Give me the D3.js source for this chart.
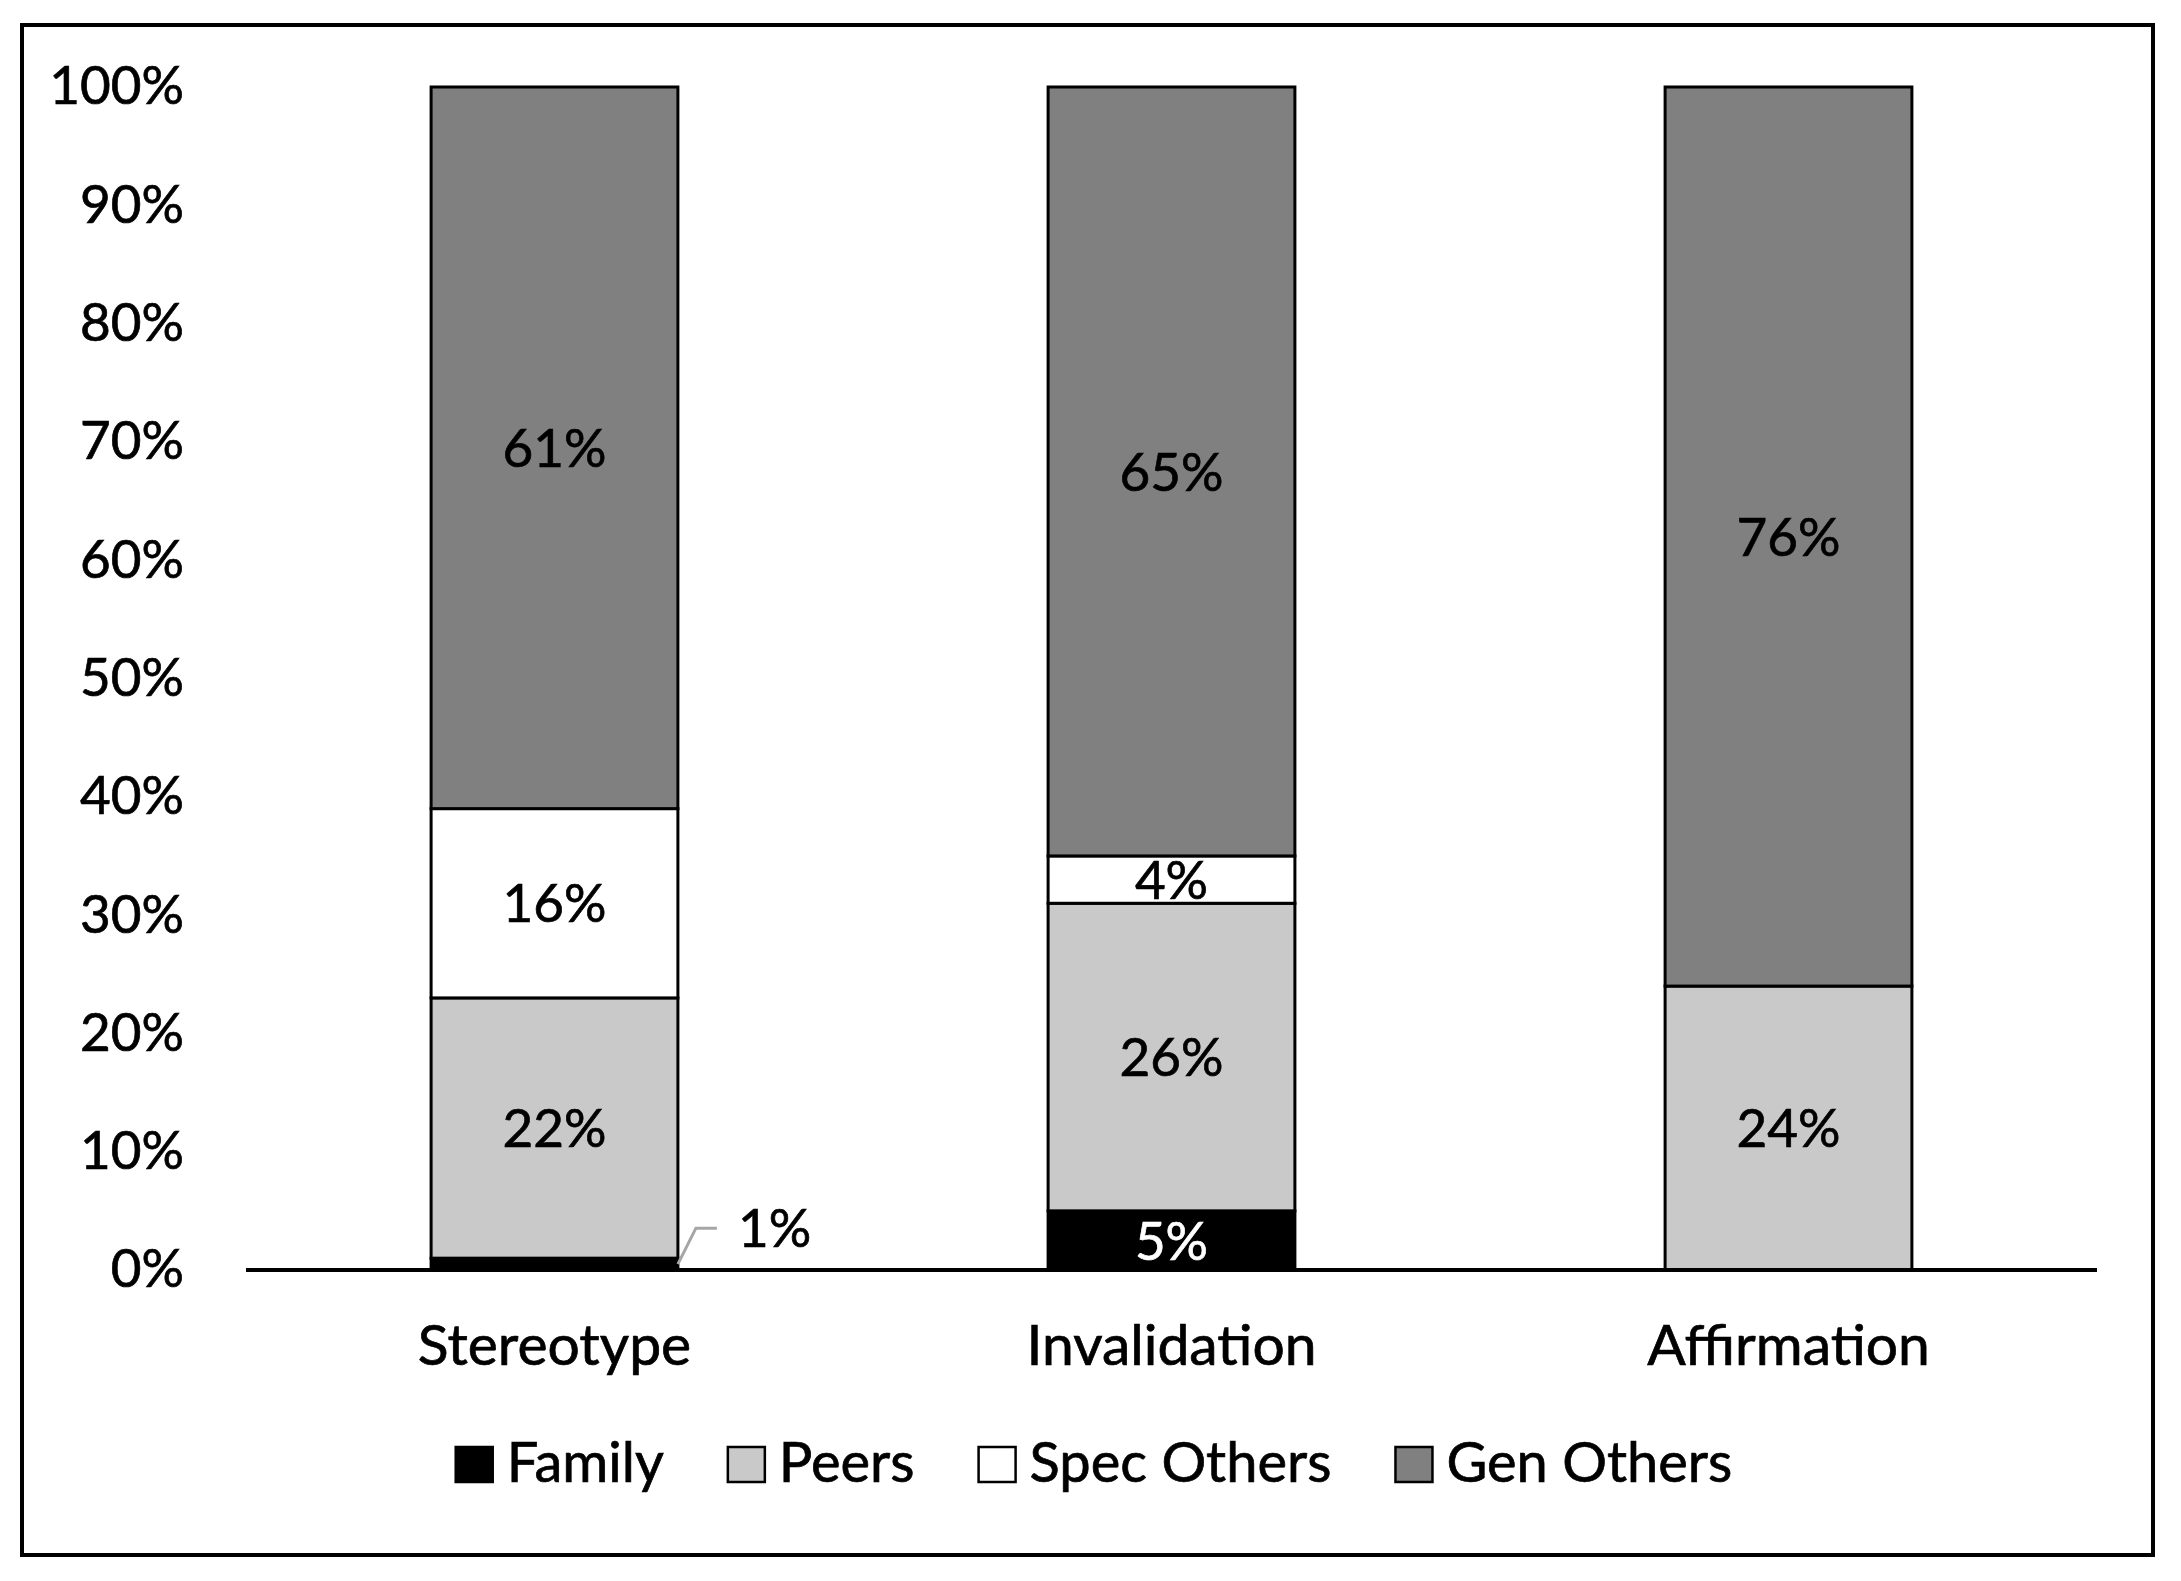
<!DOCTYPE html>
<html>
<head>
<meta charset="utf-8">
<script src="https://cdn.jsdelivr.net/npm/d3@7"></script>
<style>
  html, body { margin: 0; padding: 0; background: #fff; }
  svg text { font-family: Lato, "Open Sans", sans-serif; }
</style>
</head>
<body>
<svg id="chart" width="2181" height="1581"></svg>
<script>
// ---- data ----
const categories = ["Stereotype", "Invalidation", "Affirmation"];
const seriesNames = ["Family", "Peers", "Spec Others", "Gen Others"];
const family     = [1, 5, 0];
const peers      = [22, 26, 24];
const specOthers = [16, 4, 0];
const genOthers  = [61, 65, 76];
const yTicks = [0, 10, 20, 30, 40, 50, 60, 70, 80, 90, 100];
const seriesColors = ["#000000", "#c9c9c9", "#ffffff", "#808080"];
const labelColors  = ["#ffffff", "#000000", "#000000", "#000000"];

(function () {
const rows = categories.map((c, i) => ({
  cat: c,
  "Family": family[i],
  "Peers": peers[i],
  "Spec Others": specOthers[i],
  "Gen Others": genOthers[i]
}));

const svg = d3.select("#chart");
const FS = 53, FS_CAT = 57, FS_LEG = 56;
const heavy = sel => sel.attr("stroke-width", 0.7).attr("paint-order", "stroke");

// outer frame
svg.append("rect")
  .attr("x", 22).attr("y", 25).attr("width", 2131).attr("height", 1530)
  .attr("fill", "#fff").attr("stroke", "#000").attr("stroke-width", 4);

const pLeft = 246, pRight = 2097, pTop = 87, pBottom = 1270;
const x = d3.scaleBand().domain(categories).range([pLeft, pRight]).paddingInner(0.6).paddingOuter(0.3);
const y = d3.scaleLinear().domain([0, 100]).range([pBottom, pTop]);

const stacked = d3.stack().keys(seriesNames)(rows);

// y axis labels
const yAxis = d3.axisLeft(y).tickValues(yTicks).tickFormat(d => d + "%").tickSize(0).tickPadding(62);
const gy = svg.append("g").attr("transform", `translate(${pLeft},0)`).call(yAxis);
gy.select(".domain").remove();
gy.selectAll("text").attr("font-size", FS).attr("font-family", "Lato, sans-serif")
  .attr("fill", "#000").attr("stroke", "#000").call(heavy);

// bars, series drawn bottom to top; labels after each series
const barsG = svg.append("g");
stacked.forEach((s, si) => {
  const g = barsG.append("g");
  g.selectAll("rect")
    .data(s.filter(d => d[1] - d[0] > 0))
    .join("rect")
    .attr("x", d => x(d.data.cat))
    .attr("y", d => y(d[1]))
    .attr("width", x.bandwidth())
    .attr("height", d => y(d[0]) - y(d[1]))
    .attr("fill", seriesColors[si])
    .attr("stroke", "#000")
    .attr("stroke-width", 3);
  g.selectAll("text")
    .data(s.filter(d => d[1] - d[0] >= 2))
    .join("text")
    .attr("x", d => x(d.data.cat) + x.bandwidth() / 2)
    .attr("y", d => (y(d[0]) + y(d[1])) / 2)
    .attr("dy", "0.36em")
    .attr("text-anchor", "middle")
    .attr("font-size", FS)
    .attr("fill", labelColors[si])
    .attr("stroke", labelColors[si])
    .call(heavy)
    .text(d => (d[1] - d[0]) + "%");
});

// small 1% label with leader line
const smalls = [];
stacked.forEach((s, si) => s.forEach(d => { const v = d[1] - d[0]; if (v > 0 && v < 2) smalls.push({ d, v, si }); }));
smalls.forEach(({ d, v }) => {
  const bx = x(d.data.cat) + x.bandwidth();
  const by = (y(d[0]) + y(d[1])) / 2;
  const ly = y(d[1]) - 30;
  svg.append("path")
    .attr("d", `M${bx},${by} L${bx + 18},${ly} L${bx + 39},${ly}`)
    .attr("fill", "none").attr("stroke", "#a6a6a6").attr("stroke-width", 3);
  svg.append("text")
    .attr("x", bx + 60).attr("y", ly).attr("dy", "0.36em")
    .attr("font-size", FS).attr("fill", "#000").attr("stroke", "#000").call(heavy)
    .text(v + "%");
});

// x axis
const xAxis = d3.axisBottom(x).tickSize(0).tickPadding(0);
const gx = svg.append("g").attr("transform", `translate(0,${pBottom})`).call(xAxis);
gx.select(".domain").attr("stroke", "#000").attr("stroke-width", 4).attr("d", `M${pLeft},0H${pRight}`);
gx.selectAll("text").attr("font-size", FS_CAT).attr("font-family", "Lato, sans-serif")
  .attr("fill", "#000").attr("stroke", "#000").call(heavy)
  .attr("y", 95).attr("dy", 0);

// legend
const legG = svg.append("g");
const items = seriesNames.map((name, i) => {
  const g = legG.append("g");
  g.append("rect").attr("x", 0).attr("y", -35).attr("width", 37).attr("height", 35)
    .attr("fill", seriesColors[i]).attr("stroke", "#000").attr("stroke-width", 2.5);
  const t = g.append("text").attr("x", 51).attr("y", 0).attr("font-size", FS_LEG)
    .attr("fill", "#000").attr("stroke", "#000").call(heavy).text(name);
  return { g, w: 51 + t.node().getComputedTextLength() };
});
const gap = 64;
const total = d3.sum(items, d => d.w) + gap * (items.length - 1);
let cx = 1094 - total / 2;
items.forEach(it => { it.g.attr("transform", `translate(${cx},1482)`); cx += it.w + gap; });
})();
</script>
</body>
</html>
